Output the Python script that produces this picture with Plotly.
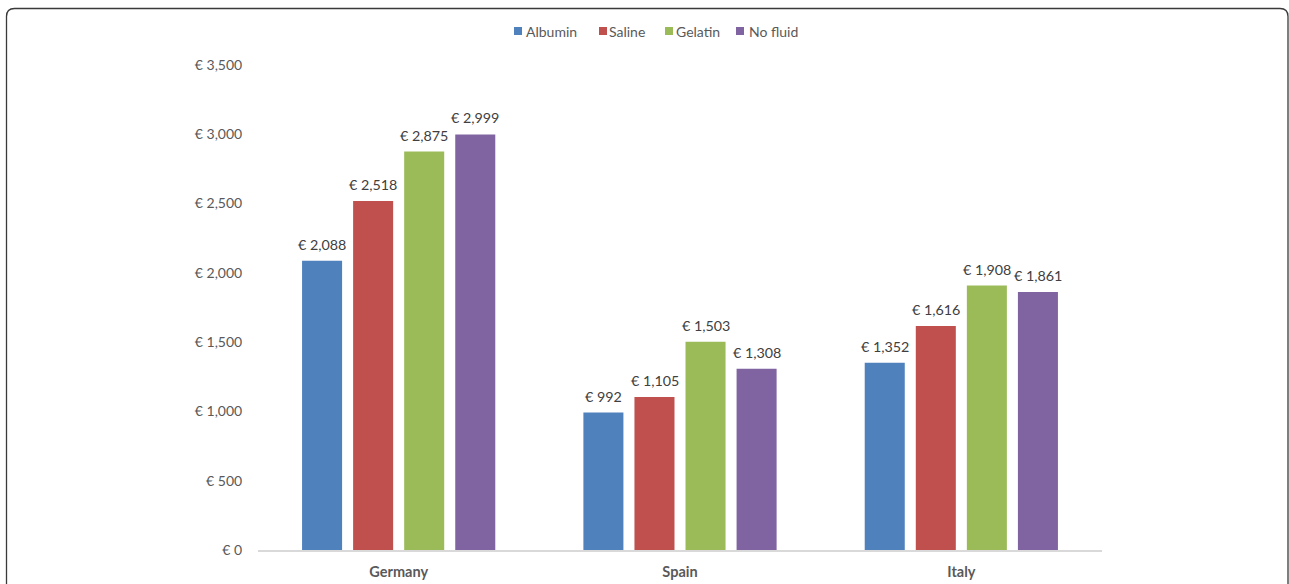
import plotly.graph_objects as go

countries = ["Germany", "Spain", "Italy"]
series_names = ["Albumin", "Saline", "Gelatin", "No fluid"]
albumin = [2088, 992, 1352]
saline = [2518, 1105, 1616]
gelatin = [2875, 1503, 1908]
no_fluid = [2999, 1308, 1861]
tick_vals = [0, 500, 1000, 1500, 2000, 2500, 3000, 3500]
tick_text = ["€ 0", "€ 500", "€ 1,000", "€ 1,500", "€ 2,000", "€ 2,500", "€ 3,000", "€ 3,500"]

colors = ["#4F81BD", "#C0504D", "#9BBB59", "#8064A2"]
values = [albumin, saline, gelatin, no_fluid]

W, H = 1289, 584
L, R, T, B = 258, 1102, 65, 550
FONT = "Lato"
FS = 14
SLOT = 51  # px per bar slot inside a group

def px(x):
    return (x - L) / (R - L)

def py(y):
    return (B - y) / (B - T)

fig = go.Figure()
annotations = []
n = len(series_names)
for i, (name, vals, c) in enumerate(zip(series_names, values, colors)):
    fig.add_trace(go.Bar(
        name=name, x=countries, y=vals,
        marker=dict(color=c, line=dict(width=0)),
        showlegend=False,
    ))
    for cat, v in zip(countries, vals):
        annotations.append(dict(
            x=cat, y=v, xref="x", yref="y", text=f"€ {v:,}", showarrow=False,
            xanchor="center", yanchor="bottom", xshift=(i - (n - 1) / 2) * SLOT, yshift=6,
            font=dict(family=FONT, size=14.3, color="#404040"),
        ))

# custom legend (squares + text)
leg_sq_x = [514, 599, 665, 736]
leg_tx_x = [524, 607, 674, 747]
shapes = []
for name, c, sx, tx in zip(series_names, colors, leg_sq_x, leg_tx_x):
    shapes.append(dict(type="rect", xref="paper", yref="paper",
                       x0=px(sx), x1=px(sx + 8), y0=py(35), y1=py(27),
                       fillcolor=c, line=dict(width=0)))
    annotations.append(dict(x=px(tx), y=py(31), xref="paper", yref="paper", text=name,
                            showarrow=False, xanchor="left", yanchor="middle",
                            font=dict(family=FONT, size=FS, color="#595959")))

# rounded border
x0, x1, y0, y1, r = 6.5, 1288, 8.5, 620, 8
path = (f"M {px(x0)},{py(y1)} L {px(x0)},{py(y0 + r)} "
        f"Q {px(x0)},{py(y0)} {px(x0 + r)},{py(y0)} "
        f"L {px(x1 - r)},{py(y0)} Q {px(x1)},{py(y0)} {px(x1)},{py(y0 + r)} "
        f"L {px(x1)},{py(y1)}")
shapes.append(dict(type="path", xref="paper", yref="paper", path=path,
                   line=dict(color="#3A3A3A", width=1.3), layer="above"))

fig.update_layout(
    width=W, height=H,
    margin=dict(l=L, r=W - R, t=T, b=H - B, pad=0, autoexpand=False),
    paper_bgcolor="white", plot_bgcolor="white",
    barmode="group", bargap=0.274, bargroupgap=0.216,
    font=dict(family=FONT, color="#595959", size=FS),
    showlegend=False,
    xaxis=dict(showgrid=False, showline=True, linecolor="#D9D9D9", linewidth=1.5,
               tickfont=dict(size=14.5, color="#595959", family=FONT, weight="bold"),
               ticks="outside", ticklen=8, tickcolor="rgba(0,0,0,0)",
               automargin=False, fixedrange=True),
    yaxis=dict(range=[0, 3500], tickvals=tick_vals, ticktext=tick_text,
               showgrid=False, zeroline=False, showline=False,
               tickfont=dict(size=FS, color="#595959", family=FONT),
               ticks="outside", ticklen=12, tickcolor="rgba(0,0,0,0)",
               automargin=False, fixedrange=True),
    shapes=shapes,
    annotations=annotations,
)

fig.write_html("out.html", config={"displayModeBar": False},
               post_script="document.body.style.margin='0px';")
